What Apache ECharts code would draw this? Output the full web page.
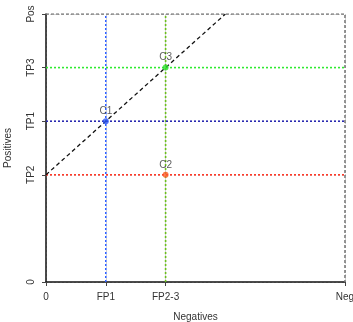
<!DOCTYPE html>
<html>
<head>
<meta charset="utf-8">
<script src="https://cdn.jsdelivr.net/npm/echarts@6/dist/echarts.min.js"></script>
<style>
  html, body { margin: 0; padding: 0; background: #fff; }
  #chart { width: 353px; height: 322px; }
</style>
</head>
<body>
<div id="chart"></div>
<script>
// tick positions and labels
var xTickValues = [0, 1, 2, 5];
var xTickLabels = ['0', 'FP1', 'FP2-3', 'Neg'];
var yTickValues = [0, 2, 3, 4, 5];
var yTickLabels = ['0', 'TP2', 'TP1', 'TP3', 'Pos'];

// classifier points
var pointNames = ['C1', 'C2', 'C3'];
var pointX = [1, 2, 2];
var pointY = [3, 2, 4];
var pointColors = ['#2a55f5', '#ff5a2a', '#2ee02e'];

// dotted reference lines (vertical at FP, horizontal at TP)
var vLineX = [1, 2];
var vLineColors = ['#3060ff', '#6cc01c'];
var hLineY = [2, 3, 4];
var hLineColors = ['#ff3a2a', '#2a2ab0', '#30ea30'];

// dashed diagonal through the points
var diagX = [0, 3];
var diagY = [2, 5];

var AXMAX = 5;

function lookup(vals, labels) {
  return function (v) {
    var i = vals.indexOf(v);
    return i >= 0 ? labels[i] : '';
  };
}

var series = [];

vLineX.forEach(function (x, i) {
  series.push({
    type: 'line', silent: true, symbol: 'none', z: 3,
    data: [[x, 0], [x, AXMAX]],
    lineStyle: { color: vLineColors[i], width: 1.6, type: [2, 2] }
  });
});
hLineY.forEach(function (y, i) {
  series.push({
    type: 'line', silent: true, symbol: 'none', z: 3,
    data: [[0, y], [AXMAX, y]],
    lineStyle: { color: hLineColors[i], width: 1.6, type: [2, 2] }
  });
});

// top and right frame
series.push({
  type: 'line', silent: true, symbol: 'none', z: 2,
  data: [[0, AXMAX], [AXMAX, AXMAX], [AXMAX, 0]],
  lineStyle: { color: '#7a7a7a', width: 1.6, type: [3, 2] }
});

series.push({
  type: 'line', silent: true, symbol: 'none', z: 4,
  data: diagX.map(function (x, i) { return [x, diagY[i]]; }),
  lineStyle: { color: '#111', width: 1.3, type: [4, 3] }
});

series.push({
  type: 'scatter', z: 5,
  symbolSize: 6,
  data: pointNames.map(function (n, i) {
    return {
      name: n, value: [pointX[i], pointY[i]],
      itemStyle: { color: pointColors[i] }
    };
  }),
  label: {
    show: true, position: 'top', distance: 2,
    formatter: '{b}', color: '#333', fontSize: 10,
    fontFamily: 'Liberation Sans'
  }
});

var chart = echarts.init(document.getElementById('chart'));
chart.setOption({
  animation: false,
  grid: { left: 46, right: 8, top: 14, bottom: 40, outerBoundsMode: 'none', containLabel: false },
  xAxis: {
    type: 'value', min: 0, max: AXMAX, interval: 1,
    name: 'Negatives', nameLocation: 'middle', nameGap: 30,
    nameTextStyle: { fontSize: 10, color: '#333', fontFamily: 'Liberation Sans' },
    axisLine: { onZero: false, lineStyle: { color: '#111', width: 1.5 } },
    axisTick: { show: true, length: 4, customValues: xTickValues, lineStyle: { color: '#444' } },
    axisLabel: {
      customValues: xTickValues, formatter: lookup(xTickValues, xTickLabels),
      fontSize: 10, color: '#333', margin: 10, fontFamily: 'Liberation Sans'
    },
    splitLine: { show: true, lineStyle: { color: '#cfcfcf', type: [2, 2] } }
  },
  yAxis: {
    type: 'value', min: 0, max: AXMAX, interval: 1,
    name: 'Positives', nameLocation: 'middle', nameGap: 33,
    nameTextStyle: { fontSize: 10, color: '#333', fontFamily: 'Liberation Sans' },
    axisLine: { onZero: false, lineStyle: { color: '#111', width: 1.5 } },
    axisTick: { show: true, length: 4, customValues: yTickValues, lineStyle: { color: '#444' } },
    axisLabel: {
      customValues: yTickValues, formatter: lookup(yTickValues, yTickLabels),
      rotate: 90, fontSize: 10, color: '#333', margin: 10, fontFamily: 'Liberation Sans'
    },
    splitLine: { show: true, lineStyle: { color: '#cfcfcf', type: [2, 2] } }
  },
  series: series
});
</script>
</body>
</html>
